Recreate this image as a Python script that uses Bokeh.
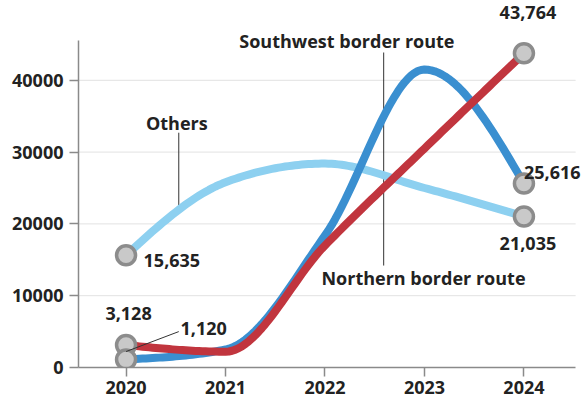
import numpy as np
from bokeh.plotting import figure
from bokeh.models import Label, Range1d, FixedTicker
from bokeh.embed import file_html
from bokeh.resources import INLINE

years = [2020, 2021, 2022, 2023, 2024]
southwest = [1120, 2500, 18400, 41500, 25616]
northern = [3128, 2200, 17000, 30500, 43764]
others = [15635, 25800, 28400, 25000, 21035]
y_ticks = [0, 10000, 20000, 30000, 40000]

FONT = "Open Sans"
TXT = "#222222"
FS = "18px"

X0, X1 = 2019.522, 2024.52     # axis extent
Y1 = 45540                     # top of y axis


def monotone(xs, ys, n=30):
    xs = np.asarray(xs, float)
    ys = np.asarray(ys, float)
    h = np.diff(xs)
    s = np.diff(ys) / h
    t = np.zeros_like(ys)
    for i in range(1, len(ys) - 1):
        p_ = (s[i - 1] * h[i] + s[i] * h[i - 1]) / (h[i - 1] + h[i])
        t[i] = (np.sign(s[i - 1]) + np.sign(s[i])) * min(abs(s[i - 1]), abs(s[i]), 0.5 * abs(p_))
    t[0] = (3 * s[0] - t[1]) / 2
    t[-1] = (3 * s[-1] - t[-2]) / 2
    ox, oy = [], []
    for i in range(len(xs) - 1):
        u = np.linspace(0, 1, n, endpoint=(i == len(xs) - 2))
        h00 = 2 * u**3 - 3 * u**2 + 1
        h10 = u**3 - 2 * u**2 + u
        h01 = -2 * u**3 + 3 * u**2
        h11 = u**3 - u**2
        ox.extend(xs[i] + u * h[i])
        oy.extend(h00 * ys[i] + h10 * h[i] * t[i] + h01 * ys[i + 1] + h11 * h[i] * t[i + 1])
    return ox, oy


p = figure(width=588, height=403, output_backend="svg", toolbar_location=None,
           x_range=Range1d(X0, 2024.649), y_range=Range1d(0, 51114),
           min_border_left=78, min_border_right=0, min_border_top=0, min_border_bottom=36)
p.outline_line_color = None
p.background_fill_color = "white"
p.border_fill_color = "white"
p.xgrid.grid_line_color = None
p.ygrid.grid_line_color = None

p.xaxis.ticker = FixedTicker(ticks=years)
p.yaxis.ticker = FixedTicker(ticks=y_ticks)
p.xaxis.bounds = (X0, X1)
p.yaxis.bounds = (0, Y1)
for ax in (p.xaxis[0], p.yaxis[0]):
    ax.axis_line_color = "#8a8a8a"
    ax.axis_line_width = 1.5
    ax.major_tick_line_color = "#8a8a8a"
    ax.major_tick_line_width = 1.5
    ax.major_tick_out = 9
    ax.major_tick_in = 0
    ax.minor_tick_line_color = None
    ax.major_label_text_font = FONT
    ax.major_label_text_font_size = FS
    ax.major_label_text_font_style = "bold"
    ax.major_label_text_color = TXT
p.yaxis.major_label_standoff = 6
p.xaxis.major_label_standoff = 4
p.xaxis.major_label_overrides = {y: str(y) for y in years}

# horizontal grid lines at the y ticks (limited to the axis extent)
gy = y_ticks[1:]
p.segment(x0=[X0] * len(gy), y0=gy, x1=[X1] * len(gy), y1=gy, line_color="#e2e2e2", line_width=1)

# leader lines drawn beneath the curves
p.segment(x0=[2022.59, 2020.53], y0=[43870, 32700], x1=[2022.59, 2020.53], y1=[14200, 22100],
          line_color="#333333", line_width=1)

ox, oy = monotone(years, others)
p.line(ox, oy, line_color="#8dd0f0", line_width=8, line_cap="round", line_join="round")
bx, by = monotone(years, southwest)
p.line(bx, by, line_color="#3a8fd0", line_width=8, line_cap="round", line_join="round")
rx, ry = monotone(years, northern)
p.line(rx, ry, line_color="#c1353e", line_width=8, line_cap="round", line_join="round")

pts_x = [years[0], years[-1], years[-1], years[-1], years[0], years[0]]
pts_y = [others[0], others[-1], southwest[-1], northern[-1], northern[0], southwest[0]]
p.scatter(pts_x, pts_y, size=19, fill_color="#c9c9c9", line_color="#8c8c8c", line_width=3.5)

p.segment(x0=[2020.0], y0=[southwest[0] + 1100], x1=[2020.53], y1=[5000],
          line_color="#333333", line_width=1)


def lab(x, y, t, align="left"):
    p.add_layout(Label(x=x, y=y, text=t, text_font=FONT, text_font_size=FS,
                       text_font_style="bold", text_color=TXT, text_align=align,
                       text_baseline="middle"))


lab(2024.04, 49440, f"{northern[-1]:,}", "center")
lab(2024.0, 27160, f"{southwest[-1]:,}", "left")
lab(2024.04, 17270, f"{others[-1]:,}", "center")
lab(2020.176, 14900, f"{others[0]:,}", "left")
lab(2020.025, 7520, f"{northern[0]:,}", "center")
lab(2020.548, 5430, f"{southwest[0]:,}", "left")
lab(2020.51, 34120, "Others", "center")
lab(2022.22, 45540, "Southwest border route", "center")
lab(2022.99, 12400, "Northern border route", "center")

open("out.html", "w").write(file_html(p, INLINE))
